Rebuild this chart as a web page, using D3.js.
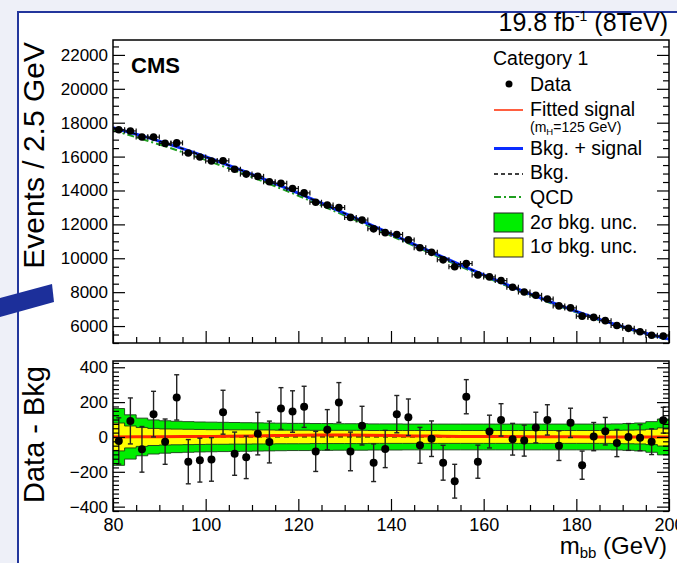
<!DOCTYPE html>
<html><head><meta charset="utf-8">
<script src="https://cdn.jsdelivr.net/npm/d3@7"></script>
<style>
body{margin:0;background:#eef0f8;}
svg{display:block;font-family:"Liberation Sans",Arial,Helvetica,sans-serif;}
</style>
</head><body>
<svg id="chart" width="677" height="563"></svg>
<script>
// ---------------- data ----------------
const massBins = [81.25,83.75,86.25,88.75,91.25,93.75,96.25,98.75,101.25,103.75,106.25,108.75,111.25,113.75,116.25,118.75,121.25,123.75,126.25,128.75,131.25,133.75,136.25,138.75,141.25,143.75,146.25,148.75,151.25,153.75,156.25,158.75,161.25,163.75,166.25,168.75,171.25,173.75,176.25,178.75,181.25,183.75,186.25,188.75,191.25,193.75,196.25,198.75];
const binHalfWidth = 1.25;
const dataCounts = [17587,17512,17154,17151,16778,16807,16208,15977,15736,15752,15254,14968,14834,14511,14423,14121,13858,13307,13137,12993,12412,12255,11737,11511,11406,11083,10617,10350,9907,9501,9686,9018,8901,8683,8292,8009,7814,7593,7190,7071,6583,6512,6318,6035,5865,5666,5458,5406];
const dataErrors = [133,132,131,131,130,130,127,126,125,126,124,122,122,120,120,119,118,115,115,114,111,111,108,107,107,105,103,102,100,97,98,95,94,93,91,89,88,87,85,84,81,81,79,78,77,75,74,74];
const residuals = [-23,92,-71,131,-27,227,-142,-133,-129,142,-96,-117,19,-29,163,146,173,-83,42,198,-83,65,-148,-69,131,113,-48,-10,-148,-254,231,-142,31,98,-13,-21,54,98,-50,81,-162,2,33,-35,0,-4,-27,96];
const band2Sigma = [163,127,108,98,93,90,88,86,85,84,83,82,81,80,79,78,78,77,77,76,76,76,75,75,75,74,74,74,74,74,74,74,74,74,74,74,74,74,74,74,74,74,74,75,77,80,88,103];
const band1Sigma = [80,63,54,49,46,45,44,43,42,42,41,41,40,40,39,39,39,38,38,38,38,38,37,37,37,37,37,37,37,37,37,37,37,37,37,37,37,37,37,37,37,37,37,38,39,40,44,52];

const curveMass = [80,85,90,95,100,105,110,115,120,125,130,135,140,145,150,155,160,165,170,175,180,185,190,195,200];
const bkgCurve = [17705,17322,16912,16465,15987,15480,14950,14400,13830,13242,12645,12037,11427,10817,10207,9605,9015,8445,7895,7367,6867,6397,5967,5577,5225];
const qcdCurve = [17555,17142,16712,16265,15797,15305,14790,14250,13690,13112,12525,11927,11327,10722,10117,9520,8935,8370,7825,7302,6807,6342,5917,5529,5180];
const signalCurve = [0,1,1,2,3,4,6,8,10,11,11,10,8,6,5,3,2,2,1,1,1,0,0,0,0];

const upperTicks = [6000,8000,10000,12000,14000,16000,18000,20000,22000];
const lowerTicks = [-400,-200,0,200,400];
const massTicks = [80,100,120,140,160,180,200];

// ---------------- layout ----------------
const svg = d3.select("#chart");
const W = 677, H = 563;
const L = 113, R = 669;
const uTop = 40, uBot = 343, lTop = 361, lBot = 511;

const x = d3.scaleLinear().domain([80,200]).range([L,R]);
const yU = d3.scaleLinear().domain([5000,22880]).range([uBot,uTop]);
const yL = d3.scaleLinear().domain([-425,436]).range([lBot,lTop]);

// background & slide frame
svg.append("rect").attr("width",W).attr("height",H).attr("fill","#eef0f8");
svg.append("rect").attr("x",18).attr("y",12).attr("width",700).attr("height",600)
  .attr("fill","#ffffff").attr("stroke","#23369c").attr("stroke-width",2);
// decorative arrow bar on the slide
svg.append("polygon").attr("points","0,298 52,284 54,302 0,317").attr("fill","#1c2f9a");

const defs = svg.append("defs");
defs.append("clipPath").attr("id","clipU").append("rect").attr("x",L).attr("y",uTop).attr("width",R-L).attr("height",uBot-uTop);
defs.append("clipPath").attr("id","clipL").append("rect").attr("x",L).attr("y",lTop).attr("width",R-L).attr("height",lBot-lTop);

// ---------------- lower panel ----------------
const gL = svg.append("g").attr("clip-path","url(#clipL)");
function stepPts(arr){
  const pts=[];
  massBins.forEach((m,i)=>{pts.push([m-binHalfWidth,arr[i]]);pts.push([m+binHalfWidth,arr[i]]);});
  return pts;
}
const bandArea = d3.area().x(d=>x(d[0])).y0(d=>yL(-d[1])).y1(d=>yL(d[1]));
const p2 = stepPts(band2Sigma), p1 = stepPts(band1Sigma);
gL.append("path").attr("d",bandArea(p2)).attr("fill","#00ee00");
gL.append("path").attr("d",bandArea(p1)).attr("fill","#ffff00");
const edgeUp = d3.line().x(d=>x(d[0])).y(d=>yL(d[1]));
const edgeDn = d3.line().x(d=>x(d[0])).y(d=>yL(-d[1]));
[p2,p1].forEach(p=>{
  gL.append("path").attr("d",edgeUp(p)).attr("fill","none").attr("stroke","#1a3a1a").attr("stroke-width",0.9);
  gL.append("path").attr("d",edgeDn(p)).attr("fill","none").attr("stroke","#1a3a1a").attr("stroke-width",0.9);
});
gL.append("line").attr("x1",x(80)).attr("x2",x(200)).attr("y1",yL(0)).attr("y2",yL(0))
  .attr("stroke","#000").attr("stroke-width",1.2).attr("stroke-dasharray","5,4");
const sigLine = d3.line().x((d,i)=>x(curveMass[i])).y(d=>yL(d)).curve(d3.curveMonotoneX);
gL.append("path").attr("d",sigLine(signalCurve)).attr("fill","none").attr("stroke","#ff2a00").attr("stroke-width",3);

// residual points
const rp = gL.selectAll("g.rp").data(massBins).enter().append("g");
rp.append("line").attr("x1",m=>x(m)).attr("x2",m=>x(m))
  .attr("y1",(m,i)=>yL(residuals[i]-dataErrors[i])).attr("y2",(m,i)=>yL(residuals[i]+dataErrors[i]))
  .attr("stroke","#222").attr("stroke-width",1.4);
[-1,1].forEach(s=>{
  rp.append("line").attr("x1",m=>x(m)-2.5).attr("x2",m=>x(m)+2.5)
    .attr("y1",(m,i)=>yL(residuals[i]+s*dataErrors[i])).attr("y2",(m,i)=>yL(residuals[i]+s*dataErrors[i]))
    .attr("stroke","#222").attr("stroke-width",1.4);
});
rp.append("circle").attr("cx",m=>x(m)).attr("cy",(m,i)=>yL(residuals[i])).attr("r",4).attr("fill","#000");

// ---------------- upper panel ----------------
const gU = svg.append("g").attr("clip-path","url(#clipU)");
const lineU = arr => d3.line().x((d,i)=>x(curveMass[i])).y(d=>yU(d)).curve(d3.curveMonotoneX)(arr);
gU.append("path").attr("d",lineU(qcdCurve)).attr("fill","none").attr("stroke","#1f9e1f").attr("stroke-width",2).attr("stroke-dasharray","7,3,2,3");
gU.append("path").attr("d",lineU(bkgCurve.map((b,i)=>b+signalCurve[i]))).attr("fill","none").attr("stroke","#0a2cff").attr("stroke-width",3);
gU.append("path").attr("d",lineU(bkgCurve)).attr("fill","none").attr("stroke","#000").attr("stroke-width",1.4).attr("stroke-dasharray","4,3");

const up = gU.selectAll("g.up").data(massBins).enter().append("g");
up.append("line").attr("x1",m=>x(m-binHalfWidth)).attr("x2",m=>x(m+binHalfWidth))
  .attr("y1",(m,i)=>yU(dataCounts[i])).attr("y2",(m,i)=>yU(dataCounts[i])).attr("stroke","#111").attr("stroke-width",1.2);
[-1,1].forEach(s=>{
  up.append("line").attr("x1",m=>x(m+s*binHalfWidth)).attr("x2",m=>x(m+s*binHalfWidth))
    .attr("y1",(m,i)=>yU(dataCounts[i])-2.5).attr("y2",(m,i)=>yU(dataCounts[i])+2.5).attr("stroke","#111").attr("stroke-width",1.2);
});
up.append("line").attr("x1",m=>x(m)).attr("x2",m=>x(m))
  .attr("y1",(m,i)=>yU(dataCounts[i]-dataErrors[i])).attr("y2",(m,i)=>yU(dataCounts[i]+dataErrors[i])).attr("stroke","#111").attr("stroke-width",1.2);
up.append("circle").attr("cx",m=>x(m)).attr("cy",(m,i)=>yU(dataCounts[i])).attr("r",3.8).attr("fill","#000");

// ---------------- axes ----------------
function styleAxis(g){
  g.select(".domain").remove();
  g.selectAll(".tick line").attr("stroke","#000").attr("stroke-width",1.2);
  g.selectAll("text").attr("fill","#000").attr("font-family","'Liberation Sans',Arial,sans-serif");
}
// upper y
const uMinor = d3.range(5000,22801,500).filter(v=>v%2000!==0);
svg.append("g").attr("transform",`translate(${L},0)`)
  .call(d3.axisLeft(yU).tickValues(upperTicks).tickSizeInner(-12).tickSizeOuter(0).tickPadding(5).tickFormat(d3.format("d")))
  .call(styleAxis).selectAll("text").attr("font-size",17);
svg.append("g").attr("transform",`translate(${L},0)`)
  .call(d3.axisLeft(yU).tickValues(uMinor).tickSizeInner(-6).tickSizeOuter(0).tickFormat("")).call(styleAxis);
svg.append("g").attr("transform",`translate(${R},0)`)
  .call(d3.axisRight(yU).tickValues(upperTicks).tickSizeInner(-12).tickSizeOuter(0).tickFormat("")).call(styleAxis);
svg.append("g").attr("transform",`translate(${R},0)`)
  .call(d3.axisRight(yU).tickValues(uMinor).tickSizeInner(-6).tickSizeOuter(0).tickFormat("")).call(styleAxis);
// lower y
const lMinor = d3.range(-425,436,25).filter(v=>v%200!==0);
svg.append("g").attr("transform",`translate(${L},0)`)
  .call(d3.axisLeft(yL).tickValues(lowerTicks).tickSizeInner(-12).tickSizeOuter(0).tickPadding(5))
  .call(styleAxis).selectAll("text").attr("font-size",17);
svg.append("g").attr("transform",`translate(${L},0)`)
  .call(d3.axisLeft(yL).tickValues(lMinor).tickSizeInner(-6).tickSizeOuter(0).tickFormat("")).call(styleAxis);
svg.append("g").attr("transform",`translate(${R},0)`)
  .call(d3.axisRight(yL).tickValues(lowerTicks).tickSizeInner(-12).tickSizeOuter(0).tickFormat("")).call(styleAxis);
svg.append("g").attr("transform",`translate(${R},0)`)
  .call(d3.axisRight(yL).tickValues(lMinor).tickSizeInner(-6).tickSizeOuter(0).tickFormat("")).call(styleAxis);
// x
const xMinor = d3.range(80,201,5).filter(v=>v%20!==0);
svg.append("g").attr("transform",`translate(0,${uBot})`)
  .call(d3.axisBottom(x).tickValues(massTicks).tickSizeInner(-12).tickSizeOuter(0).tickFormat("")).call(styleAxis);
svg.append("g").attr("transform",`translate(0,${uBot})`)
  .call(d3.axisBottom(x).tickValues(xMinor).tickSizeInner(-6).tickSizeOuter(0).tickFormat("")).call(styleAxis);
svg.append("g").attr("transform",`translate(0,${lBot})`)
  .call(d3.axisBottom(x).tickValues(massTicks).tickSizeInner(-12).tickSizeOuter(0).tickPadding(7))
  .call(styleAxis).selectAll("text").attr("font-size",18);
svg.append("g").attr("transform",`translate(0,${lBot})`)
  .call(d3.axisBottom(x).tickValues(xMinor).tickSizeInner(-6).tickSizeOuter(0).tickFormat("")).call(styleAxis);

// frames
svg.append("rect").attr("x",L).attr("y",uTop).attr("width",R-L).attr("height",uBot-uTop).attr("fill","none").attr("stroke","#000").attr("stroke-width",1.5);
svg.append("rect").attr("x",L).attr("y",lTop).attr("width",R-L).attr("height",lBot-lTop).attr("fill","none").attr("stroke","#000").attr("stroke-width",1.5);

// ---------------- texts ----------------
const lumi = svg.append("text").attr("x",668).attr("y",31).attr("text-anchor","end").attr("font-size",25).attr("fill","#000");
lumi.append("tspan").text("19.8 fb");
lumi.append("tspan").attr("font-size",14).attr("dy",-10).text("-1");
lumi.append("tspan").attr("dy",10).text(" (8TeV)");

svg.append("text").attr("x",131).attr("y",73).attr("font-size",22).attr("font-weight","bold").text("CMS");

svg.append("text").attr("transform","translate(44,42) rotate(-90)").attr("text-anchor","end").attr("font-size",30).text("Events / 2.5 GeV");
svg.append("text").attr("transform","translate(44,366) rotate(-90)").attr("text-anchor","end").attr("font-size",29).text("Data - Bkg");

const xt = svg.append("text").attr("x",667).attr("y",554).attr("text-anchor","end").attr("font-size",24);
xt.append("tspan").text("m");
xt.append("tspan").attr("font-size",15).attr("dy",4).text("bb");
xt.append("tspan").attr("dy",-4).text(" (GeV)");

// legend
const lg = svg.append("g").attr("font-size",19.5);
const lx0 = 494, lx1 = 523, tx = 530;
lg.append("text").attr("x",493).attr("y",65).text("Category 1");
lg.append("circle").attr("cx",509).attr("cy",84).attr("r",3.5).attr("fill","#000");
lg.append("text").attr("x",tx).attr("y",91).text("Data");
lg.append("line").attr("x1",lx0).attr("x2",lx1).attr("y1",110).attr("y2",110).attr("stroke","#ff2a00").attr("stroke-width",1.5);
lg.append("text").attr("x",tx).attr("y",116).text("Fitted signal");
const mh = lg.append("text").attr("x",tx).attr("y",132).attr("font-size",14);
mh.append("tspan").text("(m");
mh.append("tspan").attr("font-size",9.5).attr("dy",3).text("H");
mh.append("tspan").attr("dy",-3).text("=125 GeV)");
lg.append("line").attr("x1",lx0).attr("x2",lx1).attr("y1",148.5).attr("y2",148.5).attr("stroke","#0a2cff").attr("stroke-width",3);
lg.append("text").attr("x",tx).attr("y",155).text("Bkg. + signal");
lg.append("line").attr("x1",lx0).attr("x2",lx1).attr("y1",174).attr("y2",174).attr("stroke","#000").attr("stroke-width",1.4).attr("stroke-dasharray","4,3");
lg.append("text").attr("x",tx).attr("y",179).text("Bkg.");
lg.append("line").attr("x1",lx0).attr("x2",lx1).attr("y1",197).attr("y2",197).attr("stroke","#1f9e1f").attr("stroke-width",2).attr("stroke-dasharray","7,3,2,3");
lg.append("text").attr("x",tx).attr("y",204).text("QCD");
lg.append("rect").attr("x",lx0).attr("y",213).attr("width",lx1-lx0).attr("height",19).attr("fill","#00ee00").attr("stroke","#222").attr("stroke-width",1);
lg.append("text").attr("x",tx).attr("y",229).text("2σ bkg. unc.");
lg.append("rect").attr("x",lx0).attr("y",238).attr("width",lx1-lx0).attr("height",19).attr("fill","#ffff00").attr("stroke","#222").attr("stroke-width",1);
lg.append("text").attr("x",tx).attr("y",253).text("1σ bkg. unc.");
</script>
</body></html>
